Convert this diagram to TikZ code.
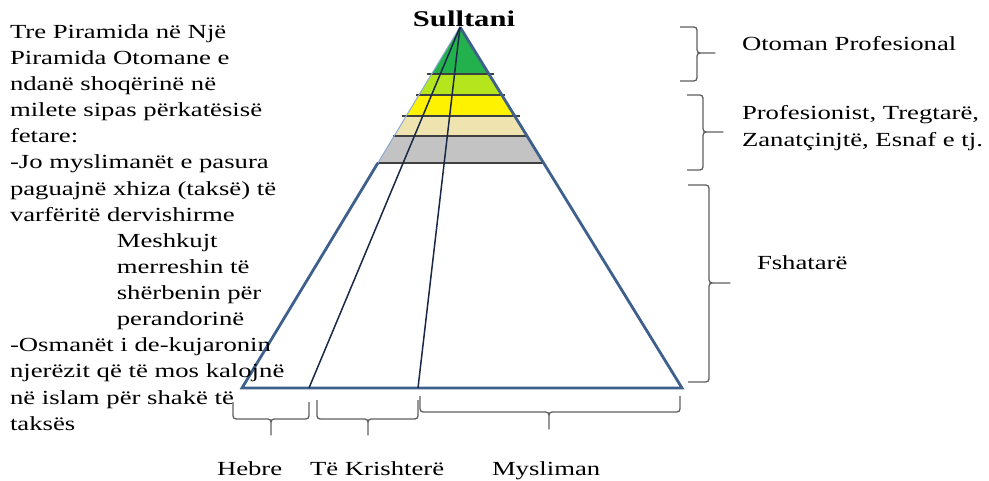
\documentclass[tikz,border=0pt]{standalone}
\usepackage{fontspec}
\setmainfont{Liberation Serif}
\usepackage{graphicx}
\definecolor{pgreen}{RGB}{34,177,76}
\definecolor{plime}{RGB}{181,230,29}
\definecolor{pyellow}{RGB}{255,242,0}
\definecolor{pwheat}{RGB}{239,228,176}
\definecolor{pgray}{RGB}{195,195,195}
\definecolor{pblue}{RGB}{62,96,140}
\definecolor{plightblue}{RGB}{140,170,210}
\definecolor{pnavy}{RGB}{25,40,70}
\definecolor{sepgray}{RGB}{64,64,64}
\definecolor{bracegray}{RGB}{95,95,95}
\newcommand{\sx}[1]{\scalebox{1.335}[1]{#1}}
\newcommand{\mlines}[1]{\scalebox{1.335}[1]{\begin{tabular}[t]{@{}l@{}}#1\end{tabular}}}
\newcommand{\DBr}[6]{%
  \draw[brc] (#1,#3) -- (#1,#4-7) .. controls (#1,#4) .. (#1+7,#4) -- (#5-7,#4)
    .. controls (#5,#4) .. (#5,#4+7) -- (#5,#6) -- (#5,#4+7)
    .. controls (#5,#4) .. (#5+7,#4) -- (#2-7,#4) .. controls (#2,#4) .. (#2,#4-7) -- (#2,#3);}
\newcommand{\RBr}[6]{%
  \draw[brc] (#1,#3) -- (#2-7,#3) .. controls (#2,#3) .. (#2,#3+7) -- (#2,#4-7)
    .. controls (#2,#4) .. (#2+7,#4) -- (#5,#4) -- (#2+7,#4)
    .. controls (#2,#4) .. (#2,#4+7) -- (#2,#6-7) .. controls (#2,#6) .. (#2-7,#6) -- (#1,#6);}
\begin{document}
\begin{tikzpicture}[x=1pt,y=-1pt,
  txt/.style={inner sep=0pt, outer sep=0pt, font=\fontsize{20}{26.13}\selectfont, text=black},
  sep/.style={draw=sepgray, line width=1.8pt},
  brc/.style={draw=bracegray, line width=1.3pt, line join=round}]
\useasboundingbox (0,0) rectangle (989,481);
% pyramid coordinates
\coordinate (apex) at (460,27);
\coordinate (bl) at (242,388);
\coordinate (br) at (682,388);
\coordinate (h1) at (309,388);
\coordinate (h2) at (418,388);
\coordinate (gl) at (377.87,163);
% colour bands
\fill[pgreen] (460,27) -- (488.90,74) -- (431.62,74) -- cycle;
\fill[plime] (431.62,74) -- (488.90,74) -- (501.82,95) -- (418.94,95) -- cycle;
\fill[pyellow] (418.94,95) -- (501.82,95) -- (514.73,116) -- (406.25,116) -- cycle;
\fill[pwheat] (406.25,116) -- (514.73,116) -- (527.03,136) -- (394.18,136) -- cycle;
\fill[pgray] (394.18,136) -- (527.03,136) -- (543.64,163) -- (377.87,163) -- cycle;
\draw[sep] (427,74) -- (494,74);
\draw[sep] (416,95) -- (505,95);
\draw[sep] (402,116) -- (520,116);
\draw[sep] (393,136) -- (527,136);
\draw[sep] (377,163) -- (543,163);
% outline
\draw[plightblue, line width=1pt] (apex) -- (gl);
\draw[pblue, line width=2.8pt, line join=miter] (gl) -- (bl) -- (br) -- (apex);
% inner lines
\draw[pnavy, line width=1.5pt] (apex) -- (h1);
\draw[pnavy, line width=1.5pt] (apex) -- (h2);
% title
\node[inner sep=0pt, anchor=base, font=\fontsize{22.5}{27}\selectfont\bfseries] (sult) at (464,26.7) {\scalebox{1.36}[1]{Sulltani}};
% left text
\node[txt, anchor=base west] (lefttext) at (10,38.3) {\mlines{Tre Piramida në Një\\
Piramida Otomane e\\
ndanë shoqërinë në\\
milete sipas përkatësisë\\
fetare:\\
-Jo myslimanët e pasura\\
paguajnë xhiza (taksë) të\\
varfëritë dervishirme\\
\hspace*{80pt}Meshkujt\\
\hspace*{80pt}merreshin të\\
\hspace*{80pt}shërbenin për\\
\hspace*{80pt}perandorinë\\
-Osmanët i de-kujaronin\\
njerëzit që të mos kalojnë\\
në islam për shakë të\\
taksës}};
% right texts
\node[txt, anchor=base west] (otoman) at (742,51) {\sx{Otoman Profesional}};
\node[txt, anchor=base west] (prof) at (742,120) {\mlines{Profesionist, Tregtarë,\\Zanatçinjtë, Esnaf e tj.}};
\node[txt, anchor=base west] (fshat) at (757,270) {\sx{Fshatarë}};
% bottom labels
\node[txt, anchor=base west] (hebre) at (217,475) {\sx{Hebre}};
\node[txt, anchor=base west] (krist) at (310,475) {\sx{Të Krishterë}};
\node[txt, anchor=base west] (mysl) at (492,475) {\sx{Mysliman}};
% braces
\RBr{680}{697}{27}{53}{715}{81}
\RBr{687}{703}{95}{132}{723}{170}
\RBr{688}{709}{185}{283}{730}{382}
\DBr{233}{309}{402}{419}{271}{435}
\DBr{317}{418}{400}{419}{368}{435}
\DBr{420}{680}{396}{412}{549}{429}
\end{tikzpicture}
\end{document}
